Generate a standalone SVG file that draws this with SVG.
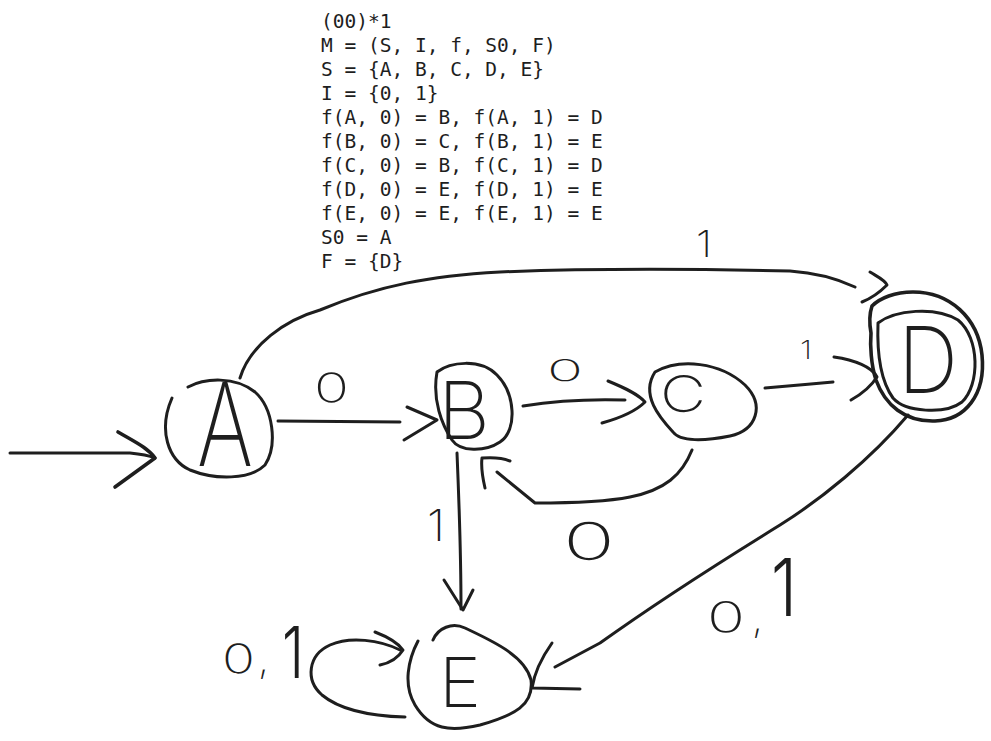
<svg xmlns="http://www.w3.org/2000/svg" width="991" height="741" viewBox="0 0 991 741">
<style>
.s{fill:none;stroke:#1e1e1e;stroke-width:3;stroke-linecap:round;stroke-linejoin:round}
.b{stroke-width:3.6}
.code{font-family:"DejaVu Sans Mono","Liberation Mono",monospace;font-size:19.5px;fill:#1e1e1e}
.h{font-family:Inter,"Open Sans","Liberation Sans",sans-serif;font-weight:200;fill:#1e1e1e}
</style>
<rect width="991" height="741" fill="#ffffff"/>
<g id="definition" class="code">
<text x="321" y="28">(00)*1</text>
<text x="321" y="52">M = (S, I, f, S0, F)</text>
<text x="321" y="76">S = {A, B, C, D, E}</text>
<text x="321" y="100">I = {0, 1}</text>
<text x="321" y="124">f(A, 0) = B, f(A, 1) = D</text>
<text x="321" y="148">f(B, 0) = C, f(B, 1) = E</text>
<text x="321" y="172">f(C, 0) = B, f(C, 1) = D</text>
<text x="321" y="196">f(D, 0) = E, f(D, 1) = E</text>
<text x="321" y="220">f(E, 0) = E, f(E, 1) = E</text>
<text x="321" y="244">S0 = A</text>
<text x="321" y="268">F = {D}</text>
</g>
<g id="connectors">
<g id="start">
<path class="s" d="M10,453 L130,453 C140,454 150,456 155,458"/>
<path class="s b" d="M118,432 C135,442 148,448 155,458 L115,487"/>
</g>
<g id="edge-A-B">
<path class="s" d="M278,421 L400,422"/>
<path class="s" d="M407,407 L437,420 L404,440"/>
<text class="h" x="314" y="402" font-size="40" textLength="35" lengthAdjust="spacingAndGlyphs" font-weight="400">0</text>
</g>
<g id="edge-A-D">
<path class="s" d="M240,378 C250,345 285,320 320,310 C380,285 430,276 500,272 C600,268 700,269 790,271 C820,273 840,280 855,287"/>
<path class="s" d="M870,272 C878,277 885,280 887,285 C880,292 872,298 862,302"/>
<text class="h" x="696" y="257" font-size="36" textLength="16" lengthAdjust="spacingAndGlyphs" font-weight="400">1</text>
</g>
<g id="edge-B-C">
<path class="s" d="M523,406 C560,400 595,399 625,400"/>
<path class="s" d="M608,381 C625,388 638,394 645,402 C635,412 620,418 602,423"/>
<text class="h" x="547" y="381" font-size="30" textLength="36" lengthAdjust="spacingAndGlyphs" font-weight="500">0</text>
</g>
<g id="edge-C-D">
<path class="s" d="M765,388 C790,386 810,384 833,382"/>
<path class="s" d="M834,357 C855,360 872,367 877,377 C870,388 860,395 851,400"/>
<text class="h" x="800" y="359" font-size="25" textLength="12" lengthAdjust="spacingAndGlyphs" font-weight="500">1</text>
</g>
<g id="edge-C-B">
<path class="s" d="M692,450 C682,475 665,490 630,497 C600,503 560,503 535,503 L497,472"/>
<path class="s" d="M485,488 C482,475 481,466 482,458 C495,457 503,458 510,461"/>
<text class="h" x="563" y="560" font-size="52" textLength="52" lengthAdjust="spacingAndGlyphs" font-weight="600">0</text>
</g>
<g id="edge-B-E">
<path class="s" d="M457,453 C459,500 461,560 461,609"/>
<path class="s" d="M444,580 L463,610 L473,590"/>
<text class="h" x="427" y="541" font-size="44" textLength="18" lengthAdjust="spacingAndGlyphs" font-weight="300">1</text>
</g>
<g id="edge-D-E">
<path class="s" d="M908,415 C870,460 820,500 780,525 C720,562 660,600 600,643 L555,667"/>
<path class="s" d="M552,643 C540,660 534,675 532,688 L580,689"/>
<text class="h" y="632" font-weight="400"><tspan x="707" font-size="42" textLength="38" lengthAdjust="spacingAndGlyphs">0</tspan><tspan x="752" font-size="40">,</tspan><tspan x="771" y="616" font-size="80" textLength="26" lengthAdjust="spacingAndGlyphs" font-weight="300">1</tspan></text>
</g>
<g id="edge-E-E">
<path class="s" d="M405,717 C370,716 340,710 322,695 C305,680 308,655 330,645 C350,636 380,640 400,650"/>
<path class="s" d="M375,632 C388,637 398,643 403,650 C398,658 390,663 380,665"/>
<text class="h" y="673" font-weight="400"><tspan x="222" font-size="40" textLength="33" lengthAdjust="spacingAndGlyphs">0</tspan><tspan x="258" font-size="40">,</tspan><tspan x="282" y="678" font-size="72" textLength="22" lengthAdjust="spacingAndGlyphs" font-weight="300">1</tspan></text>
</g>
</g>
<g id="node-A">
<path class="s" d="M188,387 C205,378 235,376 255,392 C273,408 278,445 265,465 C250,480 215,480 190,470 C168,460 158,430 172,398"/>
<text class="h" x="197" y="466" font-size="115" textLength="56" lengthAdjust="spacingAndGlyphs">A</text>
</g>
<g id="node-B">
<path class="s" d="M437,372 C450,362 480,358 497,375 C515,393 518,430 500,442 C485,452 460,452 452,440 C442,425 432,400 437,372 Z"/>
<text class="h" x="438" y="439" font-size="80" textLength="52" lengthAdjust="spacingAndGlyphs">B</text>
</g>
<g id="node-C">
<path class="s" d="M655,372 C680,358 720,362 745,385 C765,405 757,430 730,436 C705,441 680,442 673,432 C660,418 640,395 655,372 Z"/>
<text class="h" x="660" y="412" font-size="50" textLength="46" lengthAdjust="spacingAndGlyphs" font-weight="300">C</text>
</g>
<g id="node-D">
<path class="s b" d="M871,333 C869,322 870,312 872,306 C880,298 895,292 913,292 C950,292 978,318 982,355 C986,395 965,420 935,421 C905,422 885,405 876,380 C871,365 870,345 871,333 Z"/>
<path class="s" d="M878,323 C895,310 935,306 958,320 C980,338 980,385 962,402 C945,415 905,412 893,398 C880,380 877,350 878,323 Z"/>
<text class="h" x="898" y="393" font-size="92" textLength="60" lengthAdjust="spacingAndGlyphs">D</text>
</g>
<g id="node-E">
<path class="s" d="M433,640 C438,628 452,622 465,628 C490,640 525,655 531,680 C534,705 515,715 480,725 C450,732 430,730 415,705 C403,685 408,660 418,641"/>
<text class="h" x="439" y="707" font-size="69" textLength="42" lengthAdjust="spacingAndGlyphs" font-weight="300">E</text>
</g>
</svg>
